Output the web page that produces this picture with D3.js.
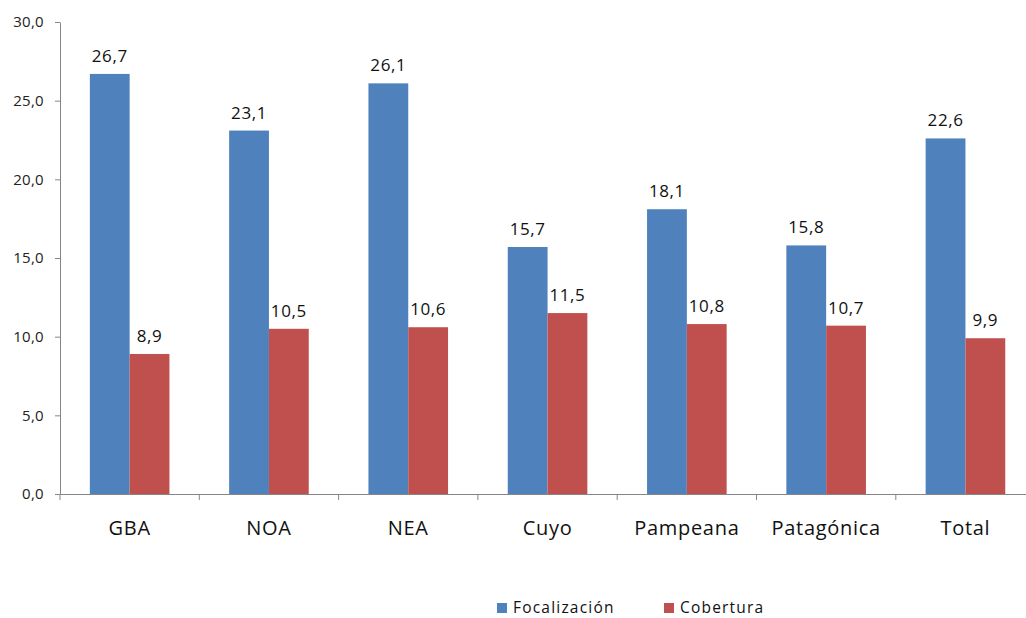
<!DOCTYPE html>
<html><head><meta charset="utf-8">
<script src="https://cdn.jsdelivr.net/npm/d3@7"></script>
<style>body{margin:0;background:#fff}svg{display:block}text{font-family:"Open Sans","Liberation Sans",sans-serif}</style>
</head><body><svg id="c" width="1026" height="618"></svg>
<script>
const categories = ["GBA","NOA","NEA","Cuyo","Pampeana","Patagónica","Total"];
const focalizacion = [26.7,23.1,26.1,15.7,18.1,15.8,22.6];
const cobertura = [8.9,10.5,10.6,11.5,10.8,10.7,9.9];
const seriesNames = ["Focalización","Cobertura"];
const colors = ["#4F81BD","#C0504D"];
const yTicks = [0,5,10,15,20,25,30];

const svg = d3.select("#c");
const x0 = 60, plotRight = 60 + 139.3*7, yBottom = 494, yTop = 22;
const x = d3.scaleBand().domain(categories).range([x0, plotRight]).paddingInner(0).paddingOuter(0);
const xs = d3.scaleBand().domain(seriesNames).range([0, x.bandwidth()]).paddingInner(0).paddingOuter(0.75);
const y = d3.scaleLinear().domain([0,30]).range([yBottom, yTop]);
const fmt = v => d3.format(".1f")(v).replace(".", ",");

// axes
const yAxis = svg.append("g").attr("transform",`translate(${x0},0)`)
  .call(d3.axisLeft(y).tickValues(yTicks).tickSize(5).tickSizeOuter(0).tickFormat(fmt));
yAxis.select(".domain").attr("stroke","#868686");
yAxis.selectAll(".tick line").attr("stroke","#868686");
yAxis.selectAll(".tick text").attr("font-size",15).attr("fill","#222").attr("dx",-8).attr("letter-spacing",0.3);

const xAxis = svg.append("g").attr("transform",`translate(0,${yBottom})`)
  .call(d3.axisBottom(x).tickSize(0).tickSizeOuter(0));
xAxis.select(".domain").attr("stroke","#868686");
xAxis.selectAll(".tick text").attr("font-size",20).attr("fill","#111").attr("dy",38).attr("letter-spacing",0.7);
// category boundary ticks
const bounds = d3.range(categories.length+1).map(i => x0 + i*x.step());
svg.append("g").selectAll("line").data(bounds).join("line")
  .attr("x1",d=>d).attr("x2",d=>d).attr("y1",yBottom).attr("y2",yBottom+6).attr("stroke","#868686");

// bars
const data = categories.map((c,i)=>({c, vals:[focalizacion[i], cobertura[i]]}));
const g = svg.append("g");
data.forEach(d=>{
  d.vals.forEach((v,j)=>{
    const bx = x(d.c) + xs(seriesNames[j]);
    g.append("rect").attr("x",bx).attr("y",y(v)).attr("width",xs.bandwidth()).attr("height",yBottom-y(v)).attr("fill",colors[j]);
    g.append("text").attr("x",bx+xs.bandwidth()/2).attr("y",y(v)-12).attr("text-anchor","middle")
      .attr("font-size",17).attr("letter-spacing",0.6).attr("fill","#111").text(fmt(v));
  });
});

// legend
const leg = svg.append("g");
const legX = [497, 664];
seriesNames.forEach((s,i)=>{
  leg.append("rect").attr("x",legX[i]).attr("y",603).attr("width",10).attr("height",10).attr("fill",colors[i]);
  leg.append("text").attr("x",legX[i]+16).attr("y",613).attr("font-size",15.5).attr("letter-spacing",1.2).attr("fill","#111").text(s);
});
</script></body></html>
